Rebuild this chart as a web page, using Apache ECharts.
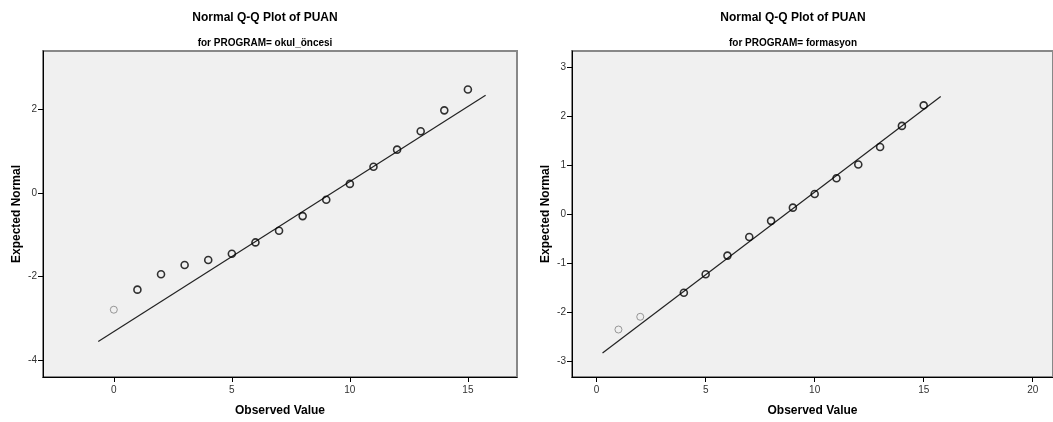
<!DOCTYPE html>
<html>
<head>
<meta charset="utf-8">
<script src="https://cdn.jsdelivr.net/npm/echarts@6/dist/echarts.min.js"></script>
<style>html,body{margin:0;padding:0;background:#fff;}#c{width:1053px;height:422px;}</style>
</head>
<body>
<div id="c"></div>
<script>
// Left panel: PROGRAM = okul_öncesi
const okulX = [0, 1, 2, 3, 4, 5, 6, 7, 8, 9, 10, 11, 12, 13, 14, 15];
const okulY = [-2.79, -2.31, -1.94, -1.72, -1.60, -1.45, -1.18, -0.90, -0.55, -0.16, 0.22, 0.63, 1.04, 1.48, 1.98, 2.48];
const okulLineX = [-0.66, 15.75];
const okulLineY = [-3.55, 2.34];
const okulXTicks = [0, 5, 10, 15];
const okulYTicks = [-4, -2, 0, 2];

// Right panel: PROGRAM = formasyon
const formX = [1, 2, 4, 5, 6, 7, 8, 9, 10, 11, 12, 13, 14, 15];
const formY = [-2.36, -2.10, -1.61, -1.23, -0.85, -0.47, -0.14, 0.13, 0.41, 0.73, 1.01, 1.37, 1.80, 2.22];
const formLineX = [0.27, 15.78];
const formLineY = [-2.84, 2.40];
const formXTicks = [0, 5, 10, 15, 20];
const formYTicks = [-3, -2, -1, 0, 1, 2, 3];

const titleText = 'Normal Q-Q Plot of PUAN';
const subtitles = ['for PROGRAM= okul_öncesi', 'for PROGRAM= formasyon'];
const xName = 'Observed Value';
const yName = 'Expected Normal';
const greyLeft = [0];
const greyRight = [1, 2];

const FONT = '"Liberation Sans", Arial, sans-serif';

function pts(xs, ys, grey) {
  return xs.map((x, i) => {
    const g = grey.indexOf(x) >= 0;
    return {
      value: [x, ys[i]],
      itemStyle: g ? { borderColor: '#808080', borderWidth: 1 } : undefined
    };
  });
}
function line(xs, ys) { return xs.map((x, i) => [x, ys[i]]); }

function xAxis(idx, min, max, ticks) {
  return {
    type: 'value', gridIndex: idx, min: min, max: max,
    name: xName, nameLocation: 'middle', nameGap: 28,
    nameTextStyle: { fontFamily: FONT, fontWeight: 'bold', fontSize: 12, color: '#000' },
    splitLine: { show: false },
    axisLine: { show: true, onZero: false, lineStyle: { color: '#000', width: 1 } },
    axisTick: { show: true, length: 5, customValues: ticks, lineStyle: { color: '#000' } },
    axisLabel: { customValues: ticks, fontFamily: FONT, fontSize: 10, color: '#333', margin: 8 }
  };
}
function yAxis(idx, min, max, ticks) {
  return {
    type: 'value', gridIndex: idx, min: min, max: max,
    name: yName, nameLocation: 'middle', nameGap: 20, nameRotate: 90,
    nameTextStyle: { fontFamily: FONT, fontWeight: 'bold', fontSize: 12, color: '#000' },
    splitLine: { show: false },
    axisLine: { show: true, onZero: false, lineStyle: { color: '#000', width: 1 } },
    axisTick: { show: true, length: 5, customValues: ticks, lineStyle: { color: '#000' } },
    axisLabel: { customValues: ticks, fontFamily: FONT, fontSize: 10, color: '#333', margin: 6 }
  };
}

const chart = echarts.init(document.getElementById('c'), null, { renderer: 'canvas' });
chart.setOption({
  animation: false,
  backgroundColor: '#fff',
  title: [
    { text: titleText, left: 260, top: 7, textAlign: 'center',
      textStyle: { fontFamily: FONT, fontSize: 12, fontWeight: 'bold', color: '#000' } },
    { text: subtitles[0], left: 260, top: 33, textAlign: 'center',
      textStyle: { fontFamily: FONT, fontSize: 10, fontWeight: 'bold', color: '#000' } },
    { text: titleText, left: 788, top: 7, textAlign: 'center',
      textStyle: { fontFamily: FONT, fontSize: 12, fontWeight: 'bold', color: '#000' } },
    { text: subtitles[1], left: 788, top: 33, textAlign: 'center',
      textStyle: { fontFamily: FONT, fontSize: 10, fontWeight: 'bold', color: '#000' } }
  ],
  grid: [
    { left: 43, top: 51, width: 474, height: 328, show: true, backgroundColor: '#f0f0f0', borderColor: '#888', borderWidth: 2 },
    { left: 572, top: 51, width: 482, height: 328, show: true, backgroundColor: '#f0f0f0', borderColor: '#888', borderWidth: 2 }
  ],
  xAxis: [ xAxis(0, -3, 17.08, okulXTicks), xAxis(1, -1.13, 20.93, formXTicks) ],
  yAxis: [ yAxis(0, -4.4, 3.4, okulYTicks), yAxis(1, -3.33, 3.33, formYTicks) ],
  series: [
    { type: 'line', xAxisIndex: 0, yAxisIndex: 0, data: line(okulLineX, okulLineY), symbol: 'none',
      lineStyle: { color: '#222', width: 1.2 }, z: 2 },
    { type: 'scatter', xAxisIndex: 0, yAxisIndex: 0, data: pts(okulX, okulY, greyLeft), symbol: 'circle', symbolSize: 7,
      itemStyle: { color: 'rgba(0,0,0,0)', borderColor: '#000', borderWidth: 1.6 }, z: 3 },
    { type: 'line', xAxisIndex: 1, yAxisIndex: 1, data: line(formLineX, formLineY), symbol: 'none',
      lineStyle: { color: '#222', width: 1.2 }, z: 2 },
    { type: 'scatter', xAxisIndex: 1, yAxisIndex: 1, data: pts(formX, formY, greyRight), symbol: 'circle', symbolSize: 7,
      itemStyle: { color: 'rgba(0,0,0,0)', borderColor: '#000', borderWidth: 1.6 }, z: 3 }
  ]
});
</script>
</body>
</html>
